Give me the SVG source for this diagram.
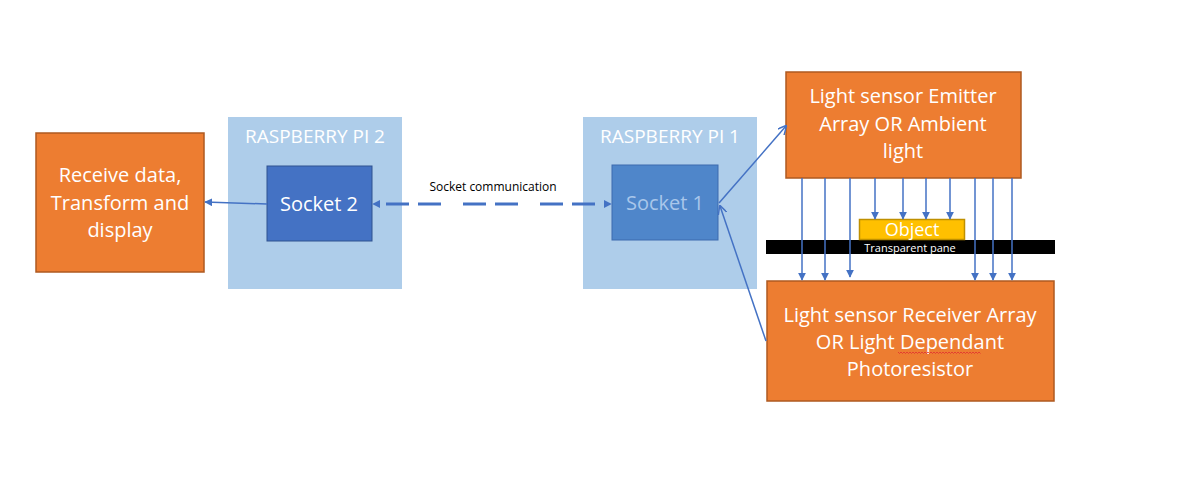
<svg xmlns="http://www.w3.org/2000/svg" width="1183" height="482" viewBox="0 0 1183 482">
<style>
.orange{fill:#ED7D31;stroke:#AE5A21;stroke-width:1.5}
.pi{fill:#AECDEA}
.t{font-family:"Open Sans","Liberation Sans",sans-serif;fill:#fff;text-anchor:middle}
.big{font-size:20px}
.lbl{font-size:19px}
.ln{stroke:#4472C4;stroke-width:1.5;fill:none}
</style>
<defs>
<marker id="ah" viewBox="0 0 10 10" refX="9" refY="5" markerWidth="8" markerHeight="8" orient="auto-start-reverse" markerUnits="userSpaceOnUse">
<path d="M0,0 L10,5 L0,10 z" fill="#4472C4"/>
</marker>
<marker id="ao" viewBox="0 0 10 10" refX="9" refY="5" markerWidth="9" markerHeight="9" orient="auto" markerUnits="userSpaceOnUse">
<path d="M0,0 L10,5 L0,10" fill="none" stroke="#4472C4" stroke-width="1.6"/>
</marker>
</defs>
<rect width="1183" height="482" fill="#fff"/>
<g id="pi2">
<rect class="pi" x="228" y="117" width="174" height="172"/>
<text class="t lbl" x="315" y="143">RASPBERRY PI 2</text>
</g>
<g id="pi1">
<rect class="pi" x="583" y="117" width="174" height="172"/>
<text class="t lbl" x="670" y="143">RASPBERRY PI 1</text>
</g>
<g id="receive">
<rect class="orange" x="36" y="133" width="168" height="139"/>
<text class="t big" x="120" y="182">Receive data,</text>
<text class="t big" x="120" y="210">Transform and</text>
<text class="t big" x="120" y="237">display</text>
</g>
<g id="socket2">
<rect x="267" y="166" width="105" height="75" fill="#4472C4" stroke="#2F528F" stroke-width="1"/>
<text class="t big" x="319" y="211">Socket 2</text>
</g>
<g id="socket1">
<rect x="612" y="165" width="106" height="75" fill="#4F86CA" stroke="#3D6BAE" stroke-width="1"/>
<text class="t big" x="665" y="210" style="fill:#A9C6EA">Socket 1</text>
</g>
<g id="emitter">
<rect class="orange" x="786" y="72" width="235" height="106"/>
<text class="t big" x="903" y="103">Light sensor Emitter</text>
<text class="t big" x="903" y="131">Array OR Ambient</text>
<text class="t big" x="903" y="158">light</text>
</g>
<g id="pane">
<rect x="766" y="240" width="289" height="14" fill="#000"/>
<text class="t" x="910" y="252" style="font-size:11px">Transparent pane</text>
</g>
<g id="object">
<rect x="859.5" y="219.5" width="105" height="20" fill="#FFC000" stroke="#BF9000" stroke-width="1.5"/>
<text class="t" x="912" y="236" style="font-size:18px">Object</text>
</g>
<g id="receiver">
<rect class="orange" x="767" y="281" width="287" height="120"/>
<text class="t big" x="910" y="322">Light sensor Receiver Array</text>
<text class="t big" x="910" y="349">OR Light Dependant</text>
<text class="t big" x="910" y="376">Photoresistor</text>
<path d="M898,352 l1.5,1.5 l1.5,-1.5 l1.5,1.5 l1.5,-1.5 l1.5,1.5 l1.5,-1.5 l1.5,1.5 l1.5,-1.5 l1.5,1.5 l1.5,-1.5 l1.5,1.5 l1.5,-1.5 l1.5,1.5 l1.5,-1.5 l1.5,1.5 l1.5,-1.5 l1.5,1.5 l1.5,-1.5 l1.5,1.5 l1.5,-1.5 l1.5,1.5 l1.5,-1.5 l1.5,1.5 l1.5,-1.5 l1.5,1.5 l1.5,-1.5 l1.5,1.5 l1.5,-1.5 l1.5,1.5 l1.5,-1.5 l1.5,1.5 l1.5,-1.5 l1.5,1.5 l1.5,-1.5 l1.5,1.5 l1.5,-1.5 l1.5,1.5 l1.5,-1.5 l1.5,1.5 l1.5,-1.5 l1.5,1.5 l1.5,-1.5 l1.5,1.5 l1.5,-1.5 l1.5,1.5 l1.5,-1.5 l1.5,1.5 l1.5,-1.5 l1.5,1.5 l1.5,-1.5 l1.5,1.5 l1.5,-1.5 l1.5,1.5 l1.5,-1.5 l1.5,1.5" fill="none" stroke="#E03030" stroke-width="0.8"/>
</g>
<g id="connectors">
<line class="ln" x1="267" y1="204" x2="205" y2="202" marker-end="url(#ah)"/>
<line x1="373" y1="204" x2="611" y2="204" stroke="#4472C4" stroke-width="2.8" stroke-dasharray="0,13,23,9,23,9" marker-start="url(#ah)" marker-end="url(#ah)"/>
<text x="493" y="191" style="font-family:'Open Sans','Liberation Sans',sans-serif;font-size:12px;fill:#000;text-anchor:middle">Socket communication</text>
<line class="ln" x1="719" y1="203" x2="786" y2="126" marker-end="url(#ao)"/>
<line class="ln" x1="766" y1="341" x2="720" y2="206" marker-end="url(#ao)"/>
<line class="ln" x1="802" y1="178" x2="802" y2="280" marker-end="url(#ah)"/>
<line class="ln" x1="825" y1="178" x2="825" y2="280" marker-end="url(#ah)"/>
<line class="ln" x1="850" y1="178" x2="850" y2="277" marker-end="url(#ah)"/>
<line class="ln" x1="875" y1="178" x2="875" y2="219" marker-end="url(#ah)"/>
<line class="ln" x1="903" y1="178" x2="903" y2="219" marker-end="url(#ah)"/>
<line class="ln" x1="926" y1="178" x2="926" y2="219" marker-end="url(#ah)"/>
<line class="ln" x1="950" y1="178" x2="950" y2="219" marker-end="url(#ah)"/>
<line class="ln" x1="975" y1="178" x2="975" y2="280" marker-end="url(#ah)"/>
<line class="ln" x1="993" y1="178" x2="993" y2="280" marker-end="url(#ah)"/>
<line class="ln" x1="1012" y1="178" x2="1012" y2="280" marker-end="url(#ah)"/>
</g>
</svg>
